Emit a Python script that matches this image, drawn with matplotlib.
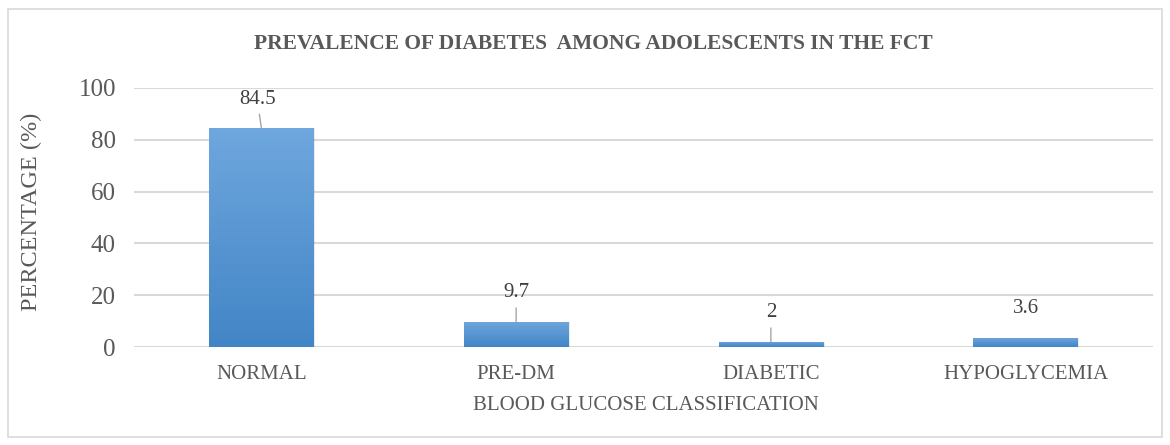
import numpy as np
import matplotlib.pyplot as plt
from matplotlib.patches import Rectangle
from matplotlib.colors import LinearSegmentedColormap

categories = ['NORMAL', 'PRE-DM', 'DIABETIC', 'HYPOGLYCEMIA']
percentages = [84.5, 9.7, 2, 3.6]
labels = ['84.5', '9.7', '2', '3.6']
yticks = [0, 20, 40, 60, 80, 100]

text_color = '#595959'
plt.rcParams['font.family'] = ['Liberation Serif', 'DejaVu Serif']

fig = plt.figure(figsize=(11.7, 4.45), dpi=100)
ax = fig.add_axes([134 / 1170, 1 - 347 / 445, 1019 / 1170, 259 / 445])

# light frame around the whole chart
fig.patches.append(Rectangle((8 / 1170, 1 - 437 / 445), 1154 / 1170, 428 / 445,
                             transform=fig.transFigure, fill=False,
                             edgecolor='#d9d9d9', linewidth=1.2))

x = np.arange(len(categories))
width = 0.41
bars = ax.bar(x, percentages, width, color='none', edgecolor='none', zorder=3)

# vertical blue gradient inside each bar
cmap = LinearSegmentedColormap.from_list('bar', ['#4285c6', '#6fa7de'])
grad = np.linspace(0, 1, 256).reshape(-1, 1)
for b in bars:
    x0, y0 = b.get_x(), b.get_y()
    w, h = b.get_width(), b.get_height()
    im = ax.imshow(grad, cmap=cmap, origin='lower', aspect='auto',
                   extent=[x0, x0 + w, y0, y0 + h], zorder=3)
    im.set_clip_path(b)
    # soft shadow
    ax.add_patch(Rectangle((x0 + 0.006, y0), w, h, facecolor='#000000',
                           alpha=0.08, edgecolor='none', zorder=2.5))

# data labels with leader lines
for i, (v, lab) in enumerate(zip(percentages, labels)):
    show_line = i < 3
    dx = -3 if i == 0 else 0
    ax.annotate(lab, xy=(x[i], v), xytext=(dx, 14), textcoords='offset points',
                ha='center', va='bottom', fontsize=15, color='#404040',
                arrowprops=dict(arrowstyle='-', color='#a6a6a6', lw=1,
                                shrinkA=2, shrinkB=0) if show_line else None,
                zorder=4)

ax.set_xlim(-0.5, len(categories) - 0.5)
ax.set_ylim(0, 100)
ax.set_yticks(yticks)
ax.set_xticks(x)
ax.set_xticklabels(categories)
ax.tick_params(axis='both', length=0, colors=text_color)
ax.tick_params(axis='y', labelsize=18, pad=13)
ax.tick_params(axis='x', labelsize=15, pad=13)
ax.grid(axis='y', color='#d9d9d9', linewidth=1.5, zorder=0)
ax.set_axisbelow(True)
for s in ax.spines.values():
    s.set_visible(False)

fig.text(593 / 1170, 1 - 44 / 445, 'PREVALENCE OF DIABETES  AMONG ADOLESCENTS IN THE FCT',
         ha='center', va='center', fontsize=15.5, fontweight='bold', color=text_color)
fig.text(646 / 1170, 1 - 406 / 445, 'BLOOD GLUCOSE CLASSIFICATION',
         ha='center', va='center', fontsize=15, color=text_color)
fig.text(31 / 1170, 1 - 212 / 445, 'PERCENTAGE (%)', rotation=90,
         ha='center', va='center', fontsize=17.5, color=text_color)

fig.savefig('out.png', dpi=100)
